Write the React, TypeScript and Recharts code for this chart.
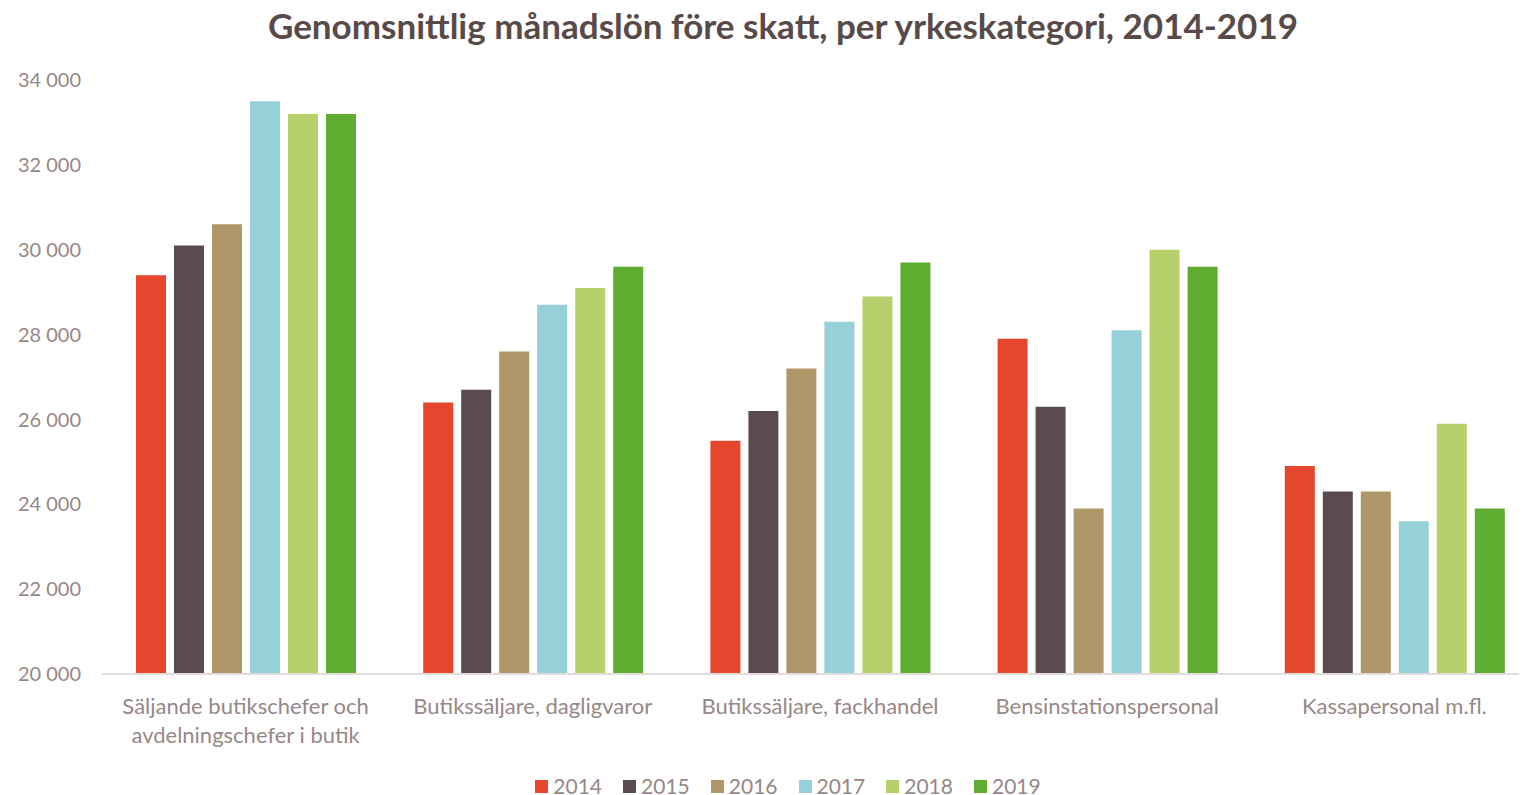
import React from "react";
import { BarChart, Bar, XAxis, YAxis, Legend } from "recharts";

const categories = [
  "Säljande butikschefer och\navdelningschefer i butik",
  "Butikssäljare, dagligvaror",
  "Butikssäljare, fackhandel",
  "Bensinstationspersonal",
  "Kassapersonal m.fl.",
];
const years = ["2014", "2015", "2016", "2017", "2018", "2019"];
const v2014 = [29400, 26400, 25500, 27900, 24900];
const v2015 = [30100, 26700, 26200, 26300, 24300];
const v2016 = [30600, 27600, 27200, 23900, 24300];
const v2017 = [33500, 28700, 28300, 28100, 23600];
const v2018 = [33200, 29100, 28900, 30000, 25900];
const v2019 = [33200, 29600, 29700, 29600, 23900];
const yTicks = [20000, 22000, 24000, 26000, 28000, 30000, 32000, 34000];
const colors = ["#e6472c", "#5a4b4f", "#b0976a", "#96d0d8", "#b6d06c", "#5ead30"];

const series = [v2014, v2015, v2016, v2017, v2018, v2019];
const data = categories.map((c, i) => {
  const row: Record<string, string | number> = { name: c };
  years.forEach((y, j) => {
    row[y] = series[j][i];
  });
  return row;
});

const TEXT = "#978787";
const FONT = "Lato, 'Open Sans', sans-serif";

const fmt = (v: number) => {
  const s = String(v);
  return s.slice(0, s.length - 3) + " " + s.slice(s.length - 3);
};

const CatTick = (props: any) => {
  const { x, y, payload } = props;
  const lines = String(payload.value).split("\n");
  return (
    <g transform={`translate(${x},${y})`}>
      <text textAnchor="middle" fill={TEXT} fontSize={22} fontFamily={FONT}>
        {lines.map((l, i) => (
          <tspan key={i} x={0} y={38 + i * 29}>
            {l}
          </tspan>
        ))}
      </text>
    </g>
  );
};

const LegendContent = () => (
  <div
    style={{
      display: "flex",
      justifyContent: "center",
      gap: 21,
      fontFamily: FONT,
      fontSize: 21,
      color: TEXT,
      lineHeight: "22px",
      paddingTop: 4,
      width: 1560,
    }}
  >
    {years.map((y, i) => (
      <div key={y} style={{ display: "flex", alignItems: "center" }}>
        <span
          style={{
            display: "inline-block",
            width: 13,
            height: 13,
            background: colors[i],
            marginRight: 5,
          }}
        />
        <span>{y}</span>
      </div>
    ))}
  </div>
);

export default function App() {
  return (
    <div style={{ position: "relative", width: 1519, height: 787 }}>
      <div
        style={{
          position: "absolute",
          left: 0,
          top: -1,
          width: 1550,
          textAlign: "center",
          fontFamily: FONT,
          fontWeight: 700,
          fontSize: 35,
          color: "#594a4a",
          lineHeight: "36px",
        }}
      >
        Genomsnittlig månadslön före skatt, per yrkeskategori, 2014-2019
      </div>
      <BarChart
        width={1530}
        height={787}
        data={data}
        margin={{ top: 72, right: 0, bottom: 0, left: 0 }}
        barSize={30}
        barGap={8}
      >
        <XAxis
          dataKey="name"
          axisLine={{ stroke: "#e3dcdc", strokeWidth: 2 }}
          tickLine={false}
          tickSize={0}
          height={97}
          tick={<CatTick />}
          interval={0}
        />
        <YAxis
          width={94}
          domain={[20000, 34000]}
          ticks={yTicks}
          axisLine={false}
          tickLine={false}
          tickSize={0}
          tickMargin={21}
          tickFormatter={fmt}
          tick={{ fill: TEXT, fontSize: 20, fontFamily: FONT }}
          allowDataOverflow
        />
        <Legend verticalAlign="bottom" align="left" height={24} content={<LegendContent />} />
        {years.map((y, i) => (
          <Bar key={y} dataKey={y} fill={colors[i]} isAnimationActive={false} />
        ))}
      </BarChart>
    </div>
  );
}
